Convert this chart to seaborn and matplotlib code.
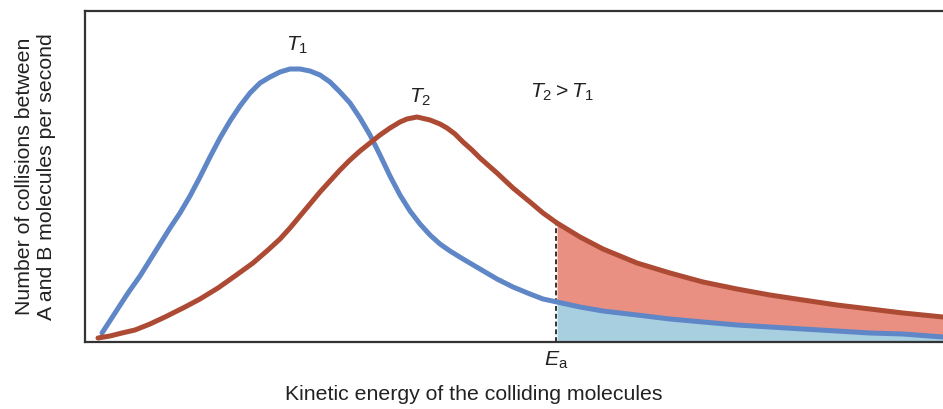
import matplotlib
matplotlib.use("Agg")
import matplotlib.pyplot as plt
import seaborn as sns
import pandas as pd

# curve values (x = energy, y = collisions, arbitrary units)
t1_x = [102, 115, 128, 140, 150, 160, 170, 180, 190, 200, 210, 220, 230, 240, 250,
        260, 270, 280, 290, 300, 310, 320, 330, 340, 350, 360, 370, 380, 390, 400,
        410, 420, 430, 440, 450, 463, 480, 497, 513, 530, 543,
        557, 580, 603, 637, 670, 703, 737, 770, 803, 837, 870, 903, 943]
t1_y = [9, 29, 49, 66, 82, 98, 114, 129, 146, 165, 185, 204, 221, 236, 249,
        259, 265, 270, 273, 273, 271, 267, 260, 250, 239, 224, 207, 187, 166, 147,
        131, 118, 107, 98, 91, 83, 73, 63, 55, 48, 43,
        40, 35, 31, 27, 23, 20, 17, 15, 13, 11, 9, 8, 5]

t2_x = [98, 110, 122, 135, 150, 165, 185, 200, 218, 235, 253, 268, 280, 290, 300,
        310, 320, 330, 340, 350, 360, 370, 380, 390, 400, 407, 417, 430, 440, 447,
        455, 463, 472, 480, 497, 513, 530, 543,
        557, 580, 603, 637, 670, 703, 737, 770, 803, 837, 870, 903, 943]
t2_y = [4, 6, 9, 12, 18, 25, 35, 43, 54, 66, 79, 92, 103, 114, 126,
        138, 150, 161, 172, 182, 191, 199, 207, 214, 220, 223, 225, 222, 218, 214,
        208, 200, 192, 184, 169, 154, 140, 129,
        119, 105, 93, 79, 69, 60, 53, 47, 42, 37, 33, 29, 25]

ea = 556
ea_t2 = 120

blue = "#5f86c6"
red = "#ad4a33"
blue_fill = "#a7cfdf"
red_fill = "#e99083"
dark = "#333333"

sns.set_theme(style="ticks")
plt.rcParams["font.family"] = ["Liberation Sans", "DejaVu Sans"]
plt.rcParams["mathtext.fontset"] = "custom"
plt.rcParams["mathtext.rm"] = "Liberation Sans"
plt.rcParams["mathtext.it"] = "Liberation Sans:italic"

fig = plt.figure(figsize=(9.43, 4.09), dpi=100)
ax = fig.add_axes([85 / 943, 67 / 409, 1 - 85 / 943, 331 / 409])

df1 = pd.DataFrame({"x": t1_x, "y": t1_y})
df2 = pd.DataFrame({"x": t2_x, "y": t2_y})
tail1 = df1[df1.x >= 557]
tail2 = df2[df2.x >= 557]

ax.fill_between(tail1.x, 0, tail1.y.values, color=blue_fill, lw=0)
ax.fill_between(tail2.x, tail1.y.values, tail2.y.values, color=red_fill, lw=0)
ax.plot([ea, ea], [0, ea_t2], ls=(0, (2.5, 1.5)), color=dark, lw=1.4)

sns.lineplot(data=df1, x="x", y="y", color=blue, lw=3.6, ax=ax)
sns.lineplot(data=df2, x="x", y="y", color=red, lw=3.6, ax=ax)

ax.set_xlim(85, 943)
ax.set_ylim(0, 331)
ax.set_xticks([])
ax.set_yticks([])
ax.spines["right"].set_visible(False)
for s in ["left", "top", "bottom"]:
    ax.spines[s].set_color(dark)
    ax.spines[s].set_linewidth(1.6)

tc = "#222222"
fs = 15.3
ax.text(297, 297, r"$T_1$", fontsize=fs, color=tc, ha="center", va="center")
ax.text(420, 245, r"$T_2$", fontsize=fs, color=tc, ha="center", va="center")
ax.text(562, 250, r"$T_2 > T_1$", fontsize=fs, color=tc, ha="center", va="center")
ax.text(ea, -18, r"$E_\mathrm{a}$", fontsize=fs, color=tc, ha="center", va="center",
        clip_on=False)

ax.set_xlabel("Kinetic energy of the colliding molecules", fontsize=fs, color=tc,
              labelpad=31, x=(474 - 85) / 858)
ax.set_ylabel("Number of collisions between\nA and B molecules per second",
              fontsize=fs, color=tc, labelpad=21, linespacing=1.2)

fig.savefig("out.png", dpi=100)
